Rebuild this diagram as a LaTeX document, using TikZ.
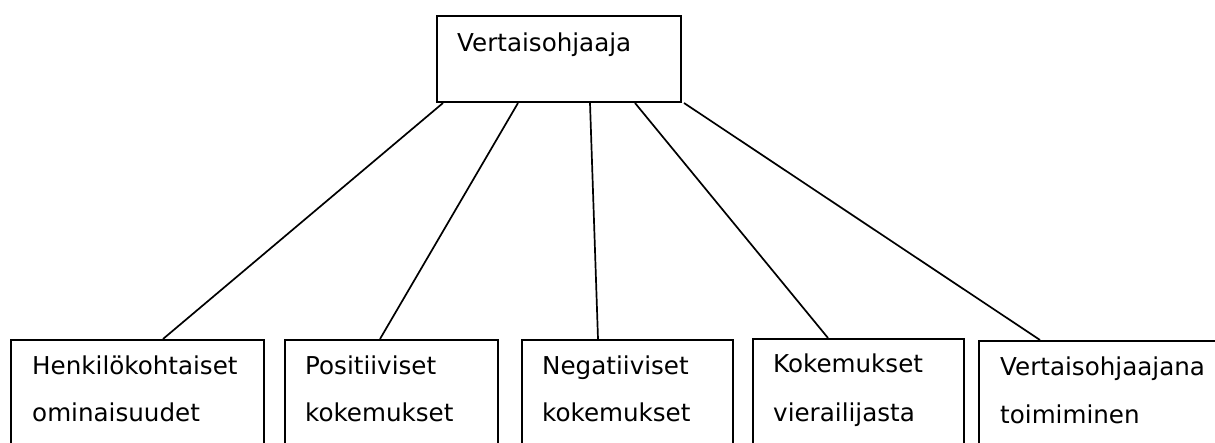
\documentclass[tikz,border=0pt]{standalone}
\usepackage{fontspec}
\setmainfont{DejaVu Sans}
\begin{document}
\begin{tikzpicture}[x=1pt,y=-1pt,
  box/.style={draw=black, line width=2pt, fill=none, inner sep=0pt, anchor=north west},
  lbl/.style={inner sep=0pt, anchor=base west, font=\fontsize{24.6}{29}\selectfont},
  link/.style={draw=black, line width=1.7pt}]
\useasboundingbox (0,0) rectangle (1215,443);
\clip (0,0) rectangle (1215,443);
% top box
\node[box, minimum width=244, minimum height=86] (top) at (436,15) {};
\node[lbl] (ttop) at (457,52) {Vertaisohjaaja};
% bottom boxes
\node[box, minimum width=253, minimum height=130] (b1) at (10,339) {};
\node[box, minimum width=213, minimum height=130] (b2) at (284,339) {};
\node[box, minimum width=211, minimum height=130] (b3) at (521,339) {};
\node[box, minimum width=211, minimum height=130] (b4) at (752,338) {};
\node[box, minimum width=260, minimum height=130] (b5) at (978,340) {};
% labels
\node[lbl] (t1a) at (32,374) {Henkilökohtaiset};
\node[lbl] (t1b) at (32,421) {ominaisuudet};
\node[lbl] (t2a) at (305,374) {Positiiviset};
\node[lbl] (t2b) at (305,421) {kokemukset};
\node[lbl] (t3a) at (542,374) {Negatiiviset};
\node[lbl] (t3b) at (542,421) {kokemukset};
\node[lbl] (t4a) at (773,372) {Kokemukset};
\node[lbl] (t4b) at (773,421) {vierailijasta};
\node[lbl] (t5a) at (1000,375) {Vertaisohjaajana};
\node[lbl] (t5b) at (1000,423) {toimiminen};
% connectors
\draw[link] ([xshift=7pt]top.south west) -- ([xshift=153pt]b1.north west);
\draw[link] ([xshift=82pt]top.south west) -- ([xshift=96pt]b2.north west);
\draw[link] ([xshift=154pt]top.south west) -- ([xshift=77pt]b3.north west);
\draw[link] ([xshift=199pt]top.south west) -- ([xshift=76pt]b4.north west);
\draw[link] ([xshift=2pt]top.south east) -- ([xshift=62pt]b5.north west);
\end{tikzpicture}
\end{document}
